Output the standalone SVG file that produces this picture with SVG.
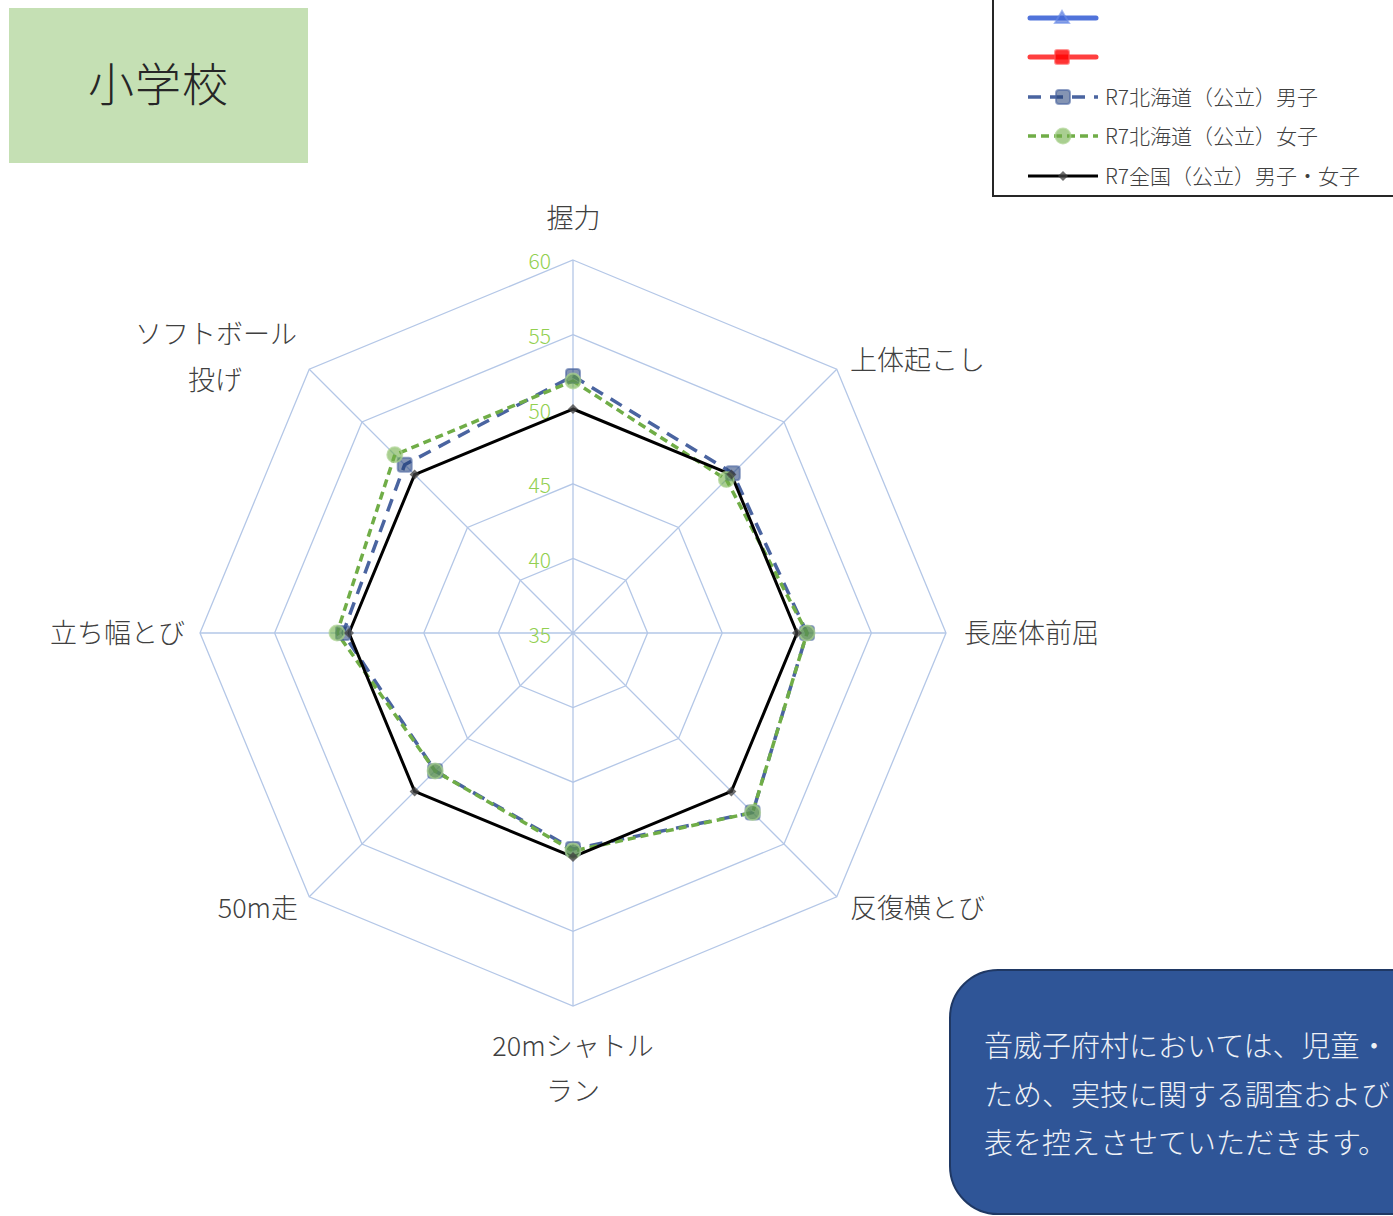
<svg xmlns="http://www.w3.org/2000/svg" width="1393" height="1216" viewBox="0 0 1393 1216">
<style>
text{font-family:"Noto Sans CJK JP","Noto Sans",sans-serif;font-weight:300;}
.grid{fill:none;stroke:#B4C7E7;stroke-width:1.3;}
.lab{font-size:27px;fill:#404040;}
.val{font-size:21px;fill:#92D050;text-anchor:end;}
.leg{font-size:21px;fill:#404040;}
.note{font-size:29px;fill:#EEF1F6;}
.boys{fill:none;stroke:#4A64A0;stroke-width:3.5;stroke-dasharray:13 9;stroke-linejoin:round;}
.girls{fill:none;stroke:#70AD47;stroke-width:3.5;stroke-dasharray:8 5;stroke-linejoin:round;}
.nat{fill:none;stroke:#000;stroke-width:3;stroke-linejoin:miter;}
</style>
<defs>
<rect id="mSq" x="-7" y="-7" width="14" height="14" rx="3" fill="#1F3C75" fill-opacity="0.55" stroke="#4A64A0" stroke-opacity="0.6" stroke-width="2"/>
<circle id="mCi" r="7.5" fill="#70AD47" fill-opacity="0.6" stroke="#A9D18E" stroke-opacity="0.7" stroke-width="2"/>
<path id="mDi" d="M0,-5 L5,0 L0,5 L-5,0 Z" fill="#404040" fill-opacity="0.75"/>
</defs>
<rect width="1393" height="1216" fill="#FFFFFF"/>

<g id="title">
<rect x="9" y="8" width="299" height="155" fill="#C5E0B4"/>
<text x="158.5" y="101" font-size="46" fill="#262626" text-anchor="middle" letter-spacing="1">小学校</text>
</g>

<g id="legend">
<rect x="993" y="-1" width="410" height="197" fill="#FFFFFF" stroke="#262626" stroke-width="2"/>
<line x1="1030" y1="18" x2="1096" y2="18" stroke="#3D64D6" stroke-opacity="0.9" stroke-width="5" stroke-linecap="round"/>
<path d="M1062,11 L1069,23 L1055,23 Z" fill="#3D64D6" fill-opacity="0.6" stroke="#6A8CE8" stroke-opacity="0.6" stroke-width="2"/>
<line x1="1030" y1="57" x2="1096" y2="57" stroke="#FF2A2A" stroke-opacity="0.9" stroke-width="5" stroke-linecap="round"/>
<rect x="1055" y="50" width="14" height="14" rx="2" fill="#FF0000" fill-opacity="0.8" stroke="#FF5050" stroke-opacity="0.6" stroke-width="2"/>
<line x1="1028" y1="97" x2="1098" y2="97" class="boys" stroke-dasharray="15 40"/>
<use href="#mSq" x="1063" y="97"/>
<line x1="1028" y1="136" x2="1098" y2="136" class="girls" stroke-dasharray="8 5"/>
<use href="#mCi" x="1063" y="136"/>
<line x1="1028" y1="176" x2="1098" y2="176" class="nat"/>
<use href="#mDi" x="1063" y="176"/>
<text class="leg" x="1105" y="105">R7北海道（公立）男子</text>
<text class="leg" x="1105" y="144">R7北海道（公立）女子</text>
<text class="leg" x="1105" y="184">R7全国（公立）男子・女子</text>
</g>

<g id="grid">
<polygon class="grid" points="573,558.4 625.75,580.25 647.6,633 625.75,685.75 573,707.6 520.25,685.75 498.4,633 520.25,580.25"/>
<polygon class="grid" points="573,483.8 678.5,527.5 722.2,633 678.5,738.5 573,782.2 467.5,738.5 423.8,633 467.5,527.5"/>
<polygon class="grid" points="573,409.2 731.25,474.75 796.8,633 731.25,791.25 573,856.8 414.75,791.25 349.2,633 414.75,474.75"/>
<polygon class="grid" points="573,334.6 784,422 871.4,633 784,844 573,931.4 362,844 274.6,633 362,422"/>
<polygon class="grid" points="573,260 836.75,369.25 946,633 836.75,896.75 573,1006 309.25,896.75 200,633 309.25,369.25"/>
<path class="grid" d="M573,633 L573,260 M573,633 L836.75,369.25 M573,633 L946,633 M573,633 L836.75,896.75 M573,633 L573,1006 M573,633 L309.25,896.75 M573,633 L200,633 M573,633 L309.25,369.25"/>
</g>

<g id="axis-values">
<text class="val" x="551" y="268.5">60</text>
<text class="val" x="551" y="343.5">55</text>
<text class="val" x="551" y="418.5">50</text>
<text class="val" x="551" y="493">45</text>
<text class="val" x="551" y="568">40</text>
<text class="val" x="551" y="643">35</text>
</g>

<g id="axis-labels">
<text class="lab" x="573.5" y="228" text-anchor="middle">握力</text>
<text class="lab" x="850" y="370">上体起こし</text>
<text class="lab" x="964" y="643">長座体前屈</text>
<text class="lab" x="850" y="918">反復横とび</text>
<text class="lab" x="573" y="1056" text-anchor="middle">20mシャトル</text>
<text class="lab" x="573" y="1101" text-anchor="middle">ラン</text>
<text class="lab" x="298" y="918" text-anchor="end">50m走</text>
<text class="lab" x="185" y="643" text-anchor="end">立ち幅とび</text>
<text class="lab" x="216" y="344" text-anchor="middle">ソフトボール</text>
<text class="lab" x="215" y="390" text-anchor="middle">投げ</text>
</g>

<g id="connectors">
<polygon class="boys" points="573,376 732.8,473.2 807,633 752.6,812.6 573,849 435.1,770.9 343,633 404.7,464.7"/>
<polygon class="girls" points="573,381 726.4,479.6 807,633 752.6,812.6 573,851 435.1,770.9 337,633 394.8,454.8"/>
<polygon class="nat" points="573,409 731.4,474.6 797,633 731.4,791.4 573,857 414.6,791.4 349,633 414.6,474.6"/>
</g>

<g id="markers-boys">
<use href="#mSq" x="573" y="376"/>
<use href="#mSq" x="732.8" y="473.2"/>
<use href="#mSq" x="807" y="633"/>
<use href="#mSq" x="752.6" y="812.6"/>
<use href="#mSq" x="573" y="849"/>
<use href="#mSq" x="435.1" y="770.9"/>
<use href="#mSq" x="343" y="633"/>
<use href="#mSq" x="404.7" y="464.7"/>
</g>
<g id="markers-girls">
<use href="#mCi" x="573" y="381"/>
<use href="#mCi" x="726.4" y="479.6"/>
<use href="#mCi" x="807" y="633"/>
<use href="#mCi" x="752.6" y="812.6"/>
<use href="#mCi" x="573" y="851"/>
<use href="#mCi" x="435.1" y="770.9"/>
<use href="#mCi" x="337" y="633"/>
<use href="#mCi" x="394.8" y="454.8"/>
</g>
<g id="markers-national">
<use href="#mDi" x="573" y="409"/>
<use href="#mDi" x="731.4" y="474.6"/>
<use href="#mDi" x="797" y="633"/>
<use href="#mDi" x="731.4" y="791.4"/>
<use href="#mDi" x="573" y="857"/>
<use href="#mDi" x="414.6" y="791.4"/>
<use href="#mDi" x="349" y="633"/>
<use href="#mDi" x="414.6" y="474.6"/>
</g>

<g id="note">
<rect x="950" y="970" width="500" height="244" rx="48" fill="#2F5597" stroke="#1F3864" stroke-width="2"/>
<text class="note" x="984" y="1057">音威子府村においては、児童・</text>
<text class="note" x="984" y="1106">ため、実技に関する調査および</text>
<text class="note" x="984" y="1154">表を控えさせていただきます。</text>
</g>
</svg>
